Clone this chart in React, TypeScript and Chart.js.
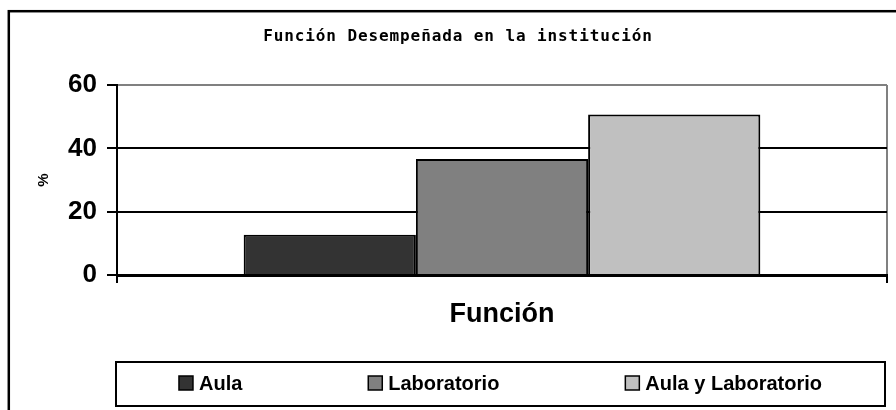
import React, { useEffect, useRef } from "react";
import { Chart, registerables } from "chart.js";

Chart.register(...registerables);

const chartTitle = "Función Desempeñada en la institución";
const categories = ["Función"];
const seriesNames = ["Aula", "Laboratorio", "Aula y Laboratorio"];
const aulaValues = [12.7];
const laboratorioValues = [36.6];
const aulaLaboratorioValues = [50.7];
const seriesColors = ["#333333", "#808080", "#c0c0c0"];
const yTickValues = [0, 20, 40, 60];
const yAxisTitle = "%";
const xAxisTitle = "Función";

const SANS = '"Liberation Sans", Arial, sans-serif';

const framePlugin = {
  id: "outerFrame",
  beforeDraw(chart: any) {
    const ctx = chart.ctx;
    ctx.save();
    ctx.fillStyle = "#ffffff";
    ctx.fillRect(0, 0, chart.width, chart.height);
    ctx.strokeStyle = "#000000";
    ctx.lineWidth = 2.5;
    ctx.strokeRect(8.8, 11.2, 1000, 1000);
    ctx.restore();
  },
};

const titlePlugin = {
  id: "monoTitle",
  afterDraw(chart: any) {
    const ctx = chart.ctx;
    ctx.save();
    ctx.font = 'bold 16px "DejaVu Sans Mono", "Liberation Mono", monospace';
    try {
      (ctx as any).letterSpacing = "0.9px";
    } catch (e) {}
    ctx.fillStyle = "#000000";
    ctx.textAlign = "center";
    ctx.textBaseline = "middle";
    ctx.fillText(chartTitle, 458, 37);
    ctx.restore();
  },
};

const legendPlugin = {
  id: "boxLegend",
  afterDraw(chart: any) {
    const ctx = chart.ctx;
    const left = 116;
    const top = 362;
    const right = 885;
    const bottom = 406;
    ctx.save();
    ctx.lineWidth = 2;
    ctx.strokeStyle = "#000000";
    ctx.strokeRect(left, top, right - left, bottom - top);
    ctx.font = "bold 20px " + SANS;
    const ds = chart.data.datasets;
    const marker = 14;
    const gap = 6;
    const widths = ds.map(
      (d: any) => marker + gap + ctx.measureText(d.label).width
    );
    const free = right - left - widths.reduce((a: number, b: number) => a + b, 0);
    const g = free / ds.length;
    let x = left + g / 2;
    const cy = 383;
    ds.forEach((d: any, i: number) => {
      ctx.fillStyle = d.backgroundColor;
      ctx.fillRect(x, cy - marker / 2, marker, marker);
      ctx.lineWidth = 1.5;
      ctx.strokeStyle = "#000000";
      ctx.strokeRect(x, cy - marker / 2, marker, marker);
      ctx.fillStyle = "#000000";
      ctx.textBaseline = "middle";
      ctx.textAlign = "left";
      ctx.fillText(d.label, x + marker + gap, cy + 1);
      x += widths[i] + g;
    });
    ctx.restore();
  },
};

export default function App() {
  const canvasRef = useRef<HTMLCanvasElement | null>(null);

  useEffect(() => {
    const canvas = canvasRef.current;
    if (!canvas) return;
    const seriesValues = [aulaValues, laboratorioValues, aulaLaboratorioValues];
    const chart = new Chart(canvas, {
      type: "bar",
      data: {
        labels: categories,
        datasets: seriesNames.map((name, i) => ({
          label: name,
          data: seriesValues[i],
          backgroundColor: seriesColors[i],
          borderColor: "#000000",
          borderWidth: 2,
          categoryPercentage: 0.671,
          barPercentage: 1,
        })),
      },
      options: {
        responsive: false,
        animation: false,
        devicePixelRatio: 1,
        layout: { padding: { left: 0, top: 85, right: 9, bottom: 0 } },
        plugins: {
          legend: { display: false },
          title: { display: false },
          tooltip: { enabled: false },
        },
        scales: {
          x: {
            type: "category",
            offset: true,
            afterFit(scale: any) {
              scale.height = 135;
            },
            grid: {
              display: true,
              offset: true,
              drawTicks: true,
              tickLength: 8,
              lineWidth: 2,
              color: (c: any) => (c.index === 0 ? "#000000" : "#808080"),
              tickColor: "#000000",
            },
            border: { display: true, color: "#000000", width: 3 },
            ticks: { display: false },
            title: {
              display: true,
              text: xAxisTitle,
              color: "#000000",
              font: { family: SANS, size: 27, weight: "bold" },
              padding: { top: 0, bottom: 79 },
            },
          },
          y: {
            min: 0,
            max: 60,
            afterFit(scale: any) {
              scale.width = 117;
            },
            afterBuildTicks(scale: any) {
              scale.ticks = yTickValues.map((v) => ({ value: v }));
            },
            grid: {
              drawTicks: true,
              tickLength: 10,
              lineWidth: 2,
              color: (c: any) =>
                c.tick && c.tick.value === 60 ? "#808080" : "#000000",
              tickColor: "#000000",
            },
            border: { display: true, color: "#000000", width: 2 },
            ticks: {
              color: "#000000",
              padding: 10,
              font: { family: SANS, size: 26, weight: "bold" },
            },
            title: {
              display: true,
              text: yAxisTitle,
              color: "#000000",
              font: { family: SANS, size: 15, weight: "bold" },
              padding: { top: 35, bottom: 0 },
            },
          },
        },
      },
      plugins: [framePlugin, titlePlugin, legendPlugin],
    } as any);
    return () => chart.destroy();
  }, []);

  return (
    <div
      style={{
        position: "fixed",
        left: 0,
        top: 0,
        width: 896,
        height: 410,
        background: "#ffffff",
      }}
    >
      <canvas
        ref={canvasRef}
        width={896}
        height={410}
        style={{ width: 896, height: 410, display: "block" }}
      />
    </div>
  );
}
